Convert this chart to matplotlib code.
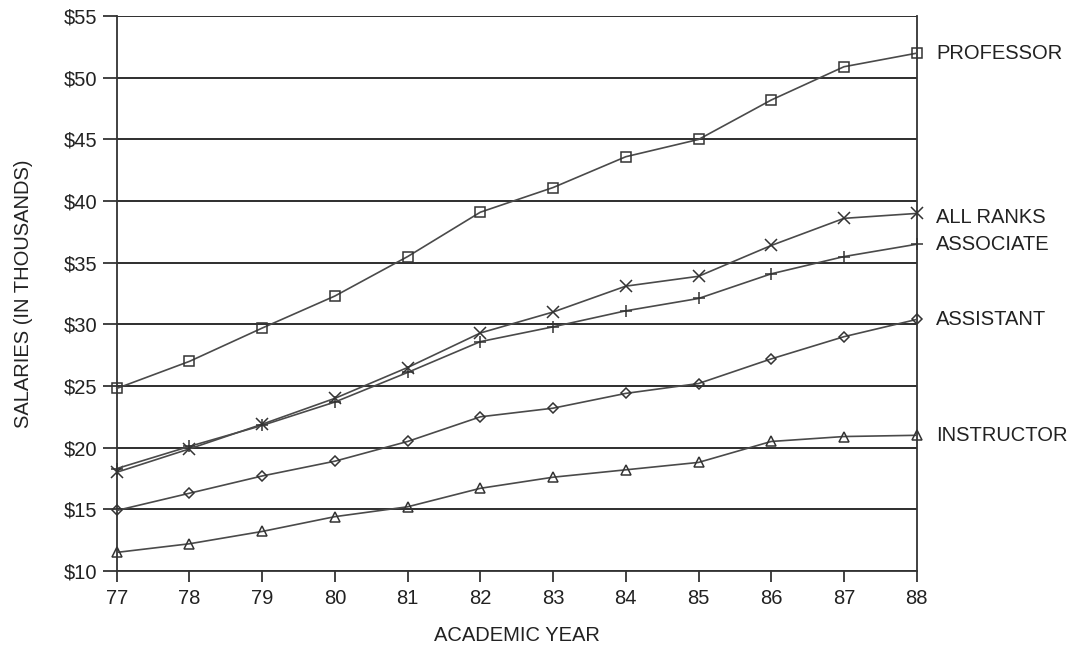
import numpy as np
import matplotlib.pyplot as plt

plt.rcParams['font.family'] = ['Liberation Sans', 'DejaVu Sans']

years = [77, 78, 79, 80, 81, 82, 83, 84, 85, 86, 87, 88]

professor = [24.8, 27.0, 29.7, 32.3, 35.5, 39.1, 41.1, 43.6, 45.0, 48.2, 50.9, 52.0]
all_ranks = [18.0, 19.9, 21.9, 24.0, 26.5, 29.3, 31.0, 33.1, 33.9, 36.4, 38.6, 39.0]
associate = [18.3, 20.1, 21.8, 23.7, 26.1, 28.6, 29.8, 31.1, 32.1, 34.1, 35.5, 36.5]
assistant = [14.9, 16.3, 17.7, 18.9, 20.5, 22.5, 23.2, 24.4, 25.2, 27.2, 29.0, 30.4]
instructor = [11.5, 12.2, 13.2, 14.4, 15.2, 16.7, 17.6, 18.2, 18.8, 20.5, 20.9, 21.0]

series = [
    ('PROFESSOR', professor, 's', 7.5, 0),
    ('ALL RANKS', all_ranks, 'x', 8.5, -3),
    ('ASSOCIATE', associate, '+', 9, 0),
    ('ASSISTANT', assistant, 'D', 5.5, 0),
    ('INSTRUCTOR', instructor, '^', 7.5, 0),
]

yticks = [10, 15, 20, 25, 30, 35, 40, 45, 50, 55]
ylabels = ['$' + str(v) for v in yticks]

fig = plt.figure(figsize=(10.81, 6.48), dpi=100)
ax = fig.add_axes([0.108, 0.119, 0.740, 0.856])

fs = 14.5
txt_col = '#222222'
line_col = '#4a4a4a'
for name, vals, mk, ms, dy in series:
    ax.plot(years, vals, color=line_col, lw=1.2, marker=mk, ms=ms,
            mfc='none', mec='#333333', mew=1.1, clip_on=False, zorder=3)
    ax.annotate(name, xy=(years[-1], vals[-1]), xytext=(14, dy),
                textcoords='offset points', va='center', ha='left',
                fontsize=fs, color=txt_col, annotation_clip=False)

ax.set_xlim(77, 88)
ax.set_ylim(10, 55)
ax.set_xticks(years)
ax.set_xticklabels([str(y) for y in years])
ax.set_yticks(yticks)
ax.set_yticklabels(ylabels)

ax.yaxis.grid(True, color='#2e2e2e', lw=1.4)
ax.set_axisbelow(True)
for s in ['left', 'right', 'bottom']:
    ax.spines[s].set_color('#333333')
    ax.spines[s].set_linewidth(1.3)
ax.spines['top'].set_visible(False)

ax.tick_params(axis='y', direction='out', length=10, width=1.2, pad=4,
               labelsize=fs, colors=txt_col)
ax.tick_params(axis='x', direction='out', length=8, width=1.2, pad=5,
               labelsize=fs, colors=txt_col)

ax.set_xlabel('ACADEMIC YEAR', fontsize=fs, color=txt_col, labelpad=13)
ax.set_ylabel('SALARIES (IN THOUSANDS)', fontsize=fs, color=txt_col, labelpad=22)

fig.savefig('out.png', dpi=100)
